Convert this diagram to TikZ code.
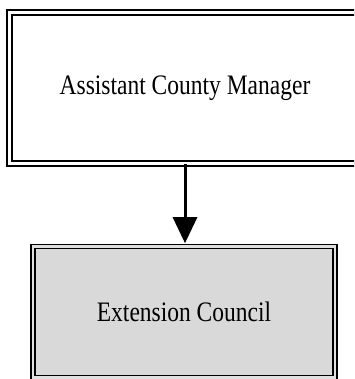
\documentclass[tikz,border=0pt]{standalone}
\usepackage{fontspec}
\setmainfont{Liberation Serif}
\usetikzlibrary{arrows.meta}
\usetikzlibrary{positioning}

\newcommand{\tall}[1]{\scalebox{1}[1.2]{#1}}

\begin{document}
\begin{tikzpicture}[x=1pt, y=-1pt,
    box/.style={draw, double, line width=1.1pt, inner sep=0pt,
        font=\fontsize{23.5}{28}\selectfont}]
    \useasboundingbox (0,0) rectangle (354,379);
    \clip (0,0) rectangle (354,379);

    \node[box, double distance=3.9pt, minimum width=351pt, minimum height=151pt]
        (acm) at (185,88) {\tall{Assistant County Manager}};
    \node[box, double distance=2.9pt, fill=black!15, double=black!12,
        minimum width=302pt, minimum height=131.5pt]
        (council) at (184,312) {\tall{Extension Council}};

    \draw[line width=3pt, -{Triangle[length=26pt,width=24pt]}, shorten >=2.5pt]
        (acm.south) -- (acm.south |- council.north);
\end{tikzpicture}
\end{document}
